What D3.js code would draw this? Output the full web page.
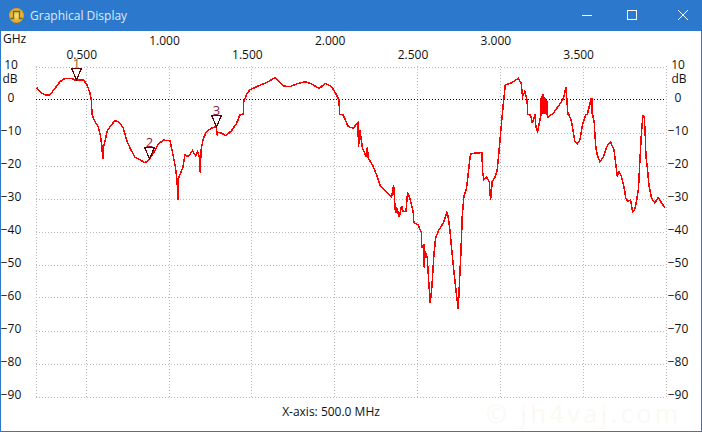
<!DOCTYPE html>
<html><head><meta charset="utf-8">
<script src="https://cdn.jsdelivr.net/npm/d3@7"></script>
<style>html,body{margin:0;padding:0;background:#fff;overflow:hidden}svg{display:block}text{font-family:"Open Sans",sans-serif}</style>
</head><body><div id="c"></div>
<script>
const freqGHz=[.201,.231,.261,.282,.312,.342,.372,.412,.432,.483,.503,.523,.531,.535,.553,.573,.587,.595,.6,.602,.608,.628,.644,.674,.7,.724,.744,.765,.795,.825,.855,.881,.905,.936,.966,1.006,1.022,1.038,1.048,1.056,1.058,1.064,1.082,1.096,1.117,1.141,1.161,1.173,1.183,1.189,1.193,1.207,1.227,1.257,1.284,1.292,1.294,1.318,1.344,1.378,1.408,1.428,1.449,1.451,1.469,1.488,1.529,1.569,1.609,1.639,1.665,1.69,1.73,1.77,1.82,1.861,1.907,1.941,1.981,2.011,2.026,2.03,2.052,2.068,2.082,2.112,2.14,2.144,2.152,2.168,2.189,2.197,2.203,2.233,2.253,2.273,2.303,2.343,2.356,2.364,2.368,2.374,2.39,2.404,2.414,2.43,2.44,2.454,2.474,2.478,2.504,2.525,2.525,2.539,2.539,2.547,2.559,2.567,2.577,2.587,2.599,2.609,2.629,2.655,2.679,2.692,2.708,2.72,2.732,2.746,2.754,2.762,2.77,2.78,2.796,2.812,2.82,2.836,2.889,2.893,2.901,2.917,2.933,2.941,2.951,2.967,2.981,2.993,3.005,3.018,3.03,3.068,3.108,3.126,3.134,3.148,3.162,3.164,3.183,3.193,3.209,3.215,3.225,3.239,3.245,3.247,3.25,3.253,3.256,3.259,3.262,3.265,3.269,3.272,3.276,3.28,3.283,3.289,3.305,3.315,3.376,3.384,3.396,3.408,3.414,3.43,3.436,3.45,3.464,3.48,3.496,3.516,3.525,3.549,3.551,3.553,3.555,3.557,3.567,3.569,3.577,3.585,3.601,3.621,3.647,3.665,3.686,3.706,3.716,3.73,3.742,3.752,3.756,3.772,3.786,3.798,3.81,3.822,3.834,3.842,3.853,3.861,3.869,3.875,3.879,3.889,3.897,3.913,3.933,3.953,3.975,3.993,3.999];
const gainDb=[3.59,1.87,1.26,1.47,3.39,5.4,6.4,6.4,5.9,5.9,4.7,1.9,-.15,-4.5,-6.7,-8.2,-11.3,-14.3,-18.1,-14.5,-13.8,-9.4,-8.2,-6.4,-6.9,-8.7,-12.3,-14.8,-17.5,-18.3,-19.2,-18.1,-16.3,-13.5,-12.3,-12.5,-16.3,-20.3,-24.4,-30.6,-24,-22.9,-20.9,-16.8,-17.3,-15.5,-17.1,-15.8,-17.5,-22.2,-15.3,-11.8,-9.7,-8.7,-8.2,-11.1,-9.9,-10.2,-11,-9.4,-7.2,-4.7,-4.4,-.7,1.7,2.9,3.9,4.7,5.7,6.6,5.4,4.1,3.9,4.7,5.4,4.7,3.3,4.9,3.9,1.4,-.15,-4.5,-4.7,-6.7,-8.2,-8.7,-7,-14.3,-9.2,-14.8,-17.1,-14.5,-17.8,-20.3,-22.9,-25.9,-27.6,-29.6,-25.9,-32.5,-34.5,-32.7,-35.7,-32.2,-34,-34,-28.1,-29.9,-34,-37.3,-38,-40.5,-45.1,-43.8,-50.9,-46.1,-48.1,-54.7,-61.8,-56.7,-47.1,-42.1,-39.5,-37.5,-34,-38,-46.1,-52.2,-57.7,-63.6,-54.7,-46.6,-35.5,-29.4,-26.9,-19.8,-16.6,-16.3,-16.1,-21.9,-24.4,-23.6,-24.9,-30.5,-24.9,-23.6,-21.4,-15.1,-8.2,-1.2,4.4,5.1,6.4,4.9,.86,2.4,-.35,-4.5,-4.7,-7.2,-4.5,-8.4,-9.7,-6.2,-4.7,.35,-4.5,1.2,-4.5,1.67,-4.5,.8,-4.5,.35,-4.5,-.15,-4.5,-5.4,-4.5,-4.5,-.15,.86,3.7,-4.5,-4.7,-6.7,-8.7,-12.8,-13.5,-12.3,-7.7,-4.5,-4.5,.35,-4.5,.35,-4.5,-4.5,-7.2,-9.2,-14.8,-16.8,-18.8,-17.5,-13.8,-12.8,-15.3,-23.4,-21.9,-23.2,-25.6,-27.9,-29.9,-30.9,-30.4,-34,-33.5,-30.9,-26.9,-18.8,-9.2,-5,-5.2,-11.3,-17.3,-21.4,-25.9,-29.9,-31.3,-29.7,-31.5,-32.7];
const markerLabels=["1","2","3"];
const markerFreq=[.437,.881,1.284];
const markerDb=[5.9,-18.1,-8.2];
const markerTextColor=["#8a6a20","#8b1a2a","#8b1a4a"];
const upperTicks=[1,2,3];
const lowerTicks=[.5,1.5,2.5,3.5];
const gridFreq=[.2,.5,1,1.5,2,2.5,3,3.5,4];
const dbTicks=[10,0,-10,-20,-30,-40,-50,-60,-70,-80,-90];

const W=702,H=432,blue="#2b78cc";
const x=d3.scaleLinear().domain([.2,4]).range([36.5,666]);
const y=d3.scaleLinear().domain([10,-90]).range([66.5,396.5]);
const svg=d3.select("#c").append("svg").attr("width",W).attr("height",H);
svg.append("rect").attr("width",W).attr("height",H).attr("fill","#fff");
// window chrome
svg.append("rect").attr("width",W).attr("height",31).attr("fill",blue);
svg.append("rect").attr("x",.5).attr("y",.5).attr("width",W-1).attr("height",H-1).attr("fill","none").attr("stroke",blue);
const grad=svg.append("defs").append("radialGradient").attr("id","ic");
grad.append("stop").attr("offset","0%").attr("stop-color","#ffe27a");
grad.append("stop").attr("offset","100%").attr("stop-color","#e79a14");
svg.append("circle").attr("cx",16.5).attr("cy",15.5).attr("r",7.5).attr("fill","url(#ic)");
svg.append("path").attr("d","M10.5 18.5H13.5V11.5H19.5V18.5H22.5").attr("fill","none").attr("stroke","#4a7a3a").attr("stroke-width",1.3);
svg.append("text").attr("x",30).attr("y",20).attr("font-size",12).attr("fill","#dfeafa").text("Graphical Display");
svg.append("path").attr("d","M582 15.5H592").attr("stroke","#fff").attr("fill","none");
svg.append("rect").attr("x",627.5).attr("y",10.5).attr("width",9).attr("height",9).attr("stroke","#fff").attr("fill","none");
svg.append("path").attr("d","M678 10L688 20M688 10L678 20").attr("stroke","#fff").attr("fill","none");
// watermark
svg.append("text").attr("x",486).attr("y",423).attr("font-size",25).attr("letter-spacing",3.6).attr("fill","#fcf8f3").text("© jh4vaj.com");
// grid
const grid=svg.append("g").attr("stroke","#b8b8b8").attr("stroke-dasharray","1,2").attr("fill","none");
grid.selectAll(".h").data(dbTicks.filter(d=>d!==0)).join("line").attr("x1",36).attr("x2",666).attr("y1",d=>Math.round(y(d))+.5).attr("y2",d=>Math.round(y(d))+.5);
grid.selectAll(".v").data(gridFreq).join("line").attr("y1",66).attr("y2",397).attr("x1",d=>Math.floor(x(d))+.5).attr("x2",d=>Math.floor(x(d))+.5);
svg.append("line").attr("x1",36).attr("x2",666).attr("y1",y(0)).attr("y2",y(0)).attr("stroke","#000").attr("stroke-dasharray","1,2");
// axes
function styleAxis(g){g.select(".domain").remove();g.selectAll("line").remove();g.selectAll("text").attr("font-size",12).attr("font-family",'"Open Sans",sans-serif').attr("fill","#111");}
const fmt=d3.format(".3f");
svg.append("g").attr("transform","translate(-5,45)").call(d3.axisTop(x).tickValues(upperTicks).tickFormat(fmt).tickSize(0).tickPadding(0)).call(styleAxis);
svg.append("g").attr("transform","translate(-5,59)").call(d3.axisTop(x).tickValues(lowerTicks).tickFormat(fmt).tickSize(0).tickPadding(0)).call(styleAxis);
const ay1=svg.append("g").attr("transform","translate(11,-2)").call(d3.axisLeft(y).tickValues(dbTicks).tickFormat(d3.format("d")).tickSize(0).tickPadding(0)).call(styleAxis);
ay1.selectAll("text").attr("text-anchor","middle").attr("x",0);
const ay2=svg.append("g").attr("transform","translate(678,-2)").call(d3.axisRight(y).tickValues(dbTicks).tickFormat(d3.format("d")).tickSize(0).tickPadding(0)).call(styleAxis);
ay2.selectAll("text").attr("text-anchor","middle").attr("x",0);
const lab=(t,xx,yy,a)=>svg.append("text").attr("x",xx).attr("y",yy).attr("font-size",12).attr("fill","#111").attr("text-anchor",a||"start").text(t);
lab("GHz",3,43);
lab("dB",10,83,"middle");lab("dB",679,83,"middle");
lab("X-axis: 500.0 MHz",331,416,"middle");
// trace
const pts=freqGHz.map((f,i)=>[f,gainDb[i]]);
svg.append("path").datum(pts).attr("fill","none").attr("stroke","#ff0000").attr("stroke-width",1.5).attr("shape-rendering","crispEdges")
 .attr("d",d3.line().x(d=>x(d[0])).y(d=>y(d[1])));
// markers
const m=svg.append("g").selectAll("g").data(markerLabels).join("g").attr("transform",(d,i)=>`translate(${Math.round(x(markerFreq[i]))+.5},${Math.round(y(markerDb[i]))-.5})`);
m.append("path").attr("d","M0 0L-5 -11H5Z").attr("fill","none").attr("stroke","#600000").attr("stroke-width",1.2).attr("shape-rendering","crispEdges");
m.append("text").attr("y",-12).attr("text-anchor","middle").attr("font-size",13).attr("fill",(d,i)=>markerTextColor[i]).text(d=>d);
</script></body></html>
